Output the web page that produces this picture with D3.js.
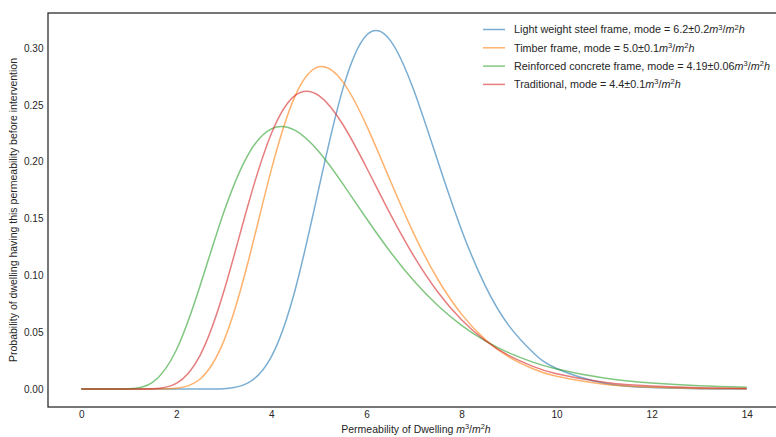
<!DOCTYPE html>
<html>
<head>
<meta charset="utf-8">
<script src="https://cdn.jsdelivr.net/npm/d3@7"></script>
<style>
  html, body { margin: 0; padding: 0; background: #fff; }
  svg { display: block; font-family: "Liberation Sans", Arial, sans-serif; }
</style>
</head>
<body>
<svg id="chart" width="776" height="437"></svg>
<script>
// ---- data ----
const xs = [0,0.5,1,1.5,2,2.5,3,3.5,4,4.5,5,5.5,6,6.5,7,7.5,8,8.5,9,9.5,10,11,12,13,14];
const steel = [0,0,0,0,0,0,0.0004,0.0053,0.0286,0.0874,0.1769,0.2636,0.3112,0.3067,0.2623,0.2005,0.1400,0.0908,0.0556,0.0324,0.0181,0.0052,0.0014,0.0003,0.0001];
const timber = [0,0,0,0.00001,0.0007,0.0089,0.0424,0.1102,0.1932,0.2579,0.2835,0.2704,0.2319,0.1834,0.1363,0.0966,0.0659,0.0436,0.0282,0.0179,0.0112,0.0043,0.0016,0.0006,0.0002];
const concrete = [0,0,0.0002,0.0060,0.0344,0.0909,0.1557,0.2054,0.2289,0.2275,0.2087,0.1807,0.1500,0.1208,0.0950,0.0735,0.0561,0.0424,0.0318,0.0237,0.0177,0.0097,0.0053,0.0029,0.0016];
const traditional = [0,0,0,0.0002,0.0050,0.0297,0.0860,0.1606,0.2248,0.2583,0.2581,0.2329,0.1949,0.1541,0.1167,0.0854,0.0610,0.0426,0.0294,0.0200,0.0135,0.0060,0.0027,0.0012,0.0005];

const seriesNames = ["Light weight steel frame, mode = 6.2\u00b10.2",
                     "Timber frame, mode = 5.0\u00b10.1",
                     "Reinforced concrete frame, mode = 4.19\u00b10.06",
                     "Traditional, mode = 4.4\u00b10.1"];
const seriesValues = [steel, timber, concrete, traditional];
const seriesColors = ["#1f77b4", "#ff7f0e", "#2ca02c", "#d62728"];

const xTicks = [0,2,4,6,8,10,12,14];
const yTicks = [0,0.05,0.10,0.15,0.20,0.25,0.30];

// ---- layout ----
const svg = d3.select("#chart");
const mLeft = 48, mTop = 13, mBottom = 407, mRight = 780;
const x = d3.scaleLinear().domain([-0.7, 14.7]).range([mLeft, mRight]);
const y = d3.scaleLinear().domain([-0.01575, 0.33075]).range([mBottom, mTop]);

const textColor = "#262626";

// lines
const line = d3.line()
  .x((d, i) => x(xs[i]))
  .y(d => y(d))
  .curve(d3.curveNatural);

const plot = svg.append("g");
seriesValues.forEach((vals, k) => {
  plot.append("path")
    .datum(vals)
    .attr("d", line)
    .attr("fill", "none")
    .attr("stroke", seriesColors[k])
    .attr("stroke-opacity", 0.6)
    .attr("stroke-width", 1.5);
});

// axes (no tick marks, seaborn white style)
const xAxis = d3.axisBottom(x).tickValues(xTicks).tickSize(0).tickPadding(4).tickFormat(d3.format("d"));
const yAxis = d3.axisLeft(y).tickValues(yTicks).tickSize(0).tickPadding(4.5).tickFormat(d3.format(".2f"));

const gx = svg.append("g").attr("transform", `translate(0,${mBottom})`).call(xAxis);
const gy = svg.append("g").attr("transform", `translate(${mLeft},0)`).call(yAxis);
[gx, gy].forEach(g => {
  g.select(".domain").remove();
  g.selectAll("text").attr("fill", textColor).style("font-size", "10px")
   .style("font-family", "'Liberation Sans', Arial, sans-serif");
});

// frame
svg.append("rect")
  .attr("x", mLeft).attr("y", mTop)
  .attr("width", mRight - mLeft).attr("height", mBottom - mTop)
  .attr("fill", "none").attr("stroke", "#262626").attr("stroke-width", 1.25);

// axis labels
function unitSpans(t) {
  t.append("tspan").attr("font-style", "italic").text("m");
  t.append("tspan").attr("font-size", "0.7em").attr("dy", "-0.5em").text("3");
  t.append("tspan").attr("dy", "0.35em").text("/");
  t.append("tspan").attr("font-style", "italic").text("m");
  t.append("tspan").attr("font-size", "0.7em").attr("dy", "-0.5em").text("2");
  t.append("tspan").attr("dy", "0.35em").attr("font-style", "italic").text("h");
}
const xl = svg.append("text")
  .attr("x", (mLeft + mRight) / 2 + 2).attr("y", 433)
  .attr("text-anchor", "middle")
  .attr("fill", textColor).style("font-size", "10.5px");
xl.append("tspan").text("Permeability of Dwelling ");
unitSpans(xl);

svg.append("text")
  .attr("transform", `translate(17,${(mTop + mBottom) / 2}) rotate(-90)`)
  .attr("text-anchor", "middle")
  .attr("fill", textColor).style("font-size", "10.5px")
  .text("Probability of dwelling having this permeability before intervention");

// legend
const legend = svg.append("g");
seriesNames.forEach((name, k) => {
  const yy = 29.5 + k * 18.3;
  legend.append("line")
    .attr("x1", 483).attr("x2", 505).attr("y1", yy).attr("y2", yy)
    .attr("stroke", seriesColors[k]).attr("stroke-opacity", 0.6).attr("stroke-width", 1.5);
  const t = legend.append("text")
    .attr("x", 514).attr("y", yy + 3.8)
    .attr("fill", textColor).style("font-size", "10.8px");
  t.append("tspan").text(name);
  unitSpans(t);
});
</script>
</body>
</html>
